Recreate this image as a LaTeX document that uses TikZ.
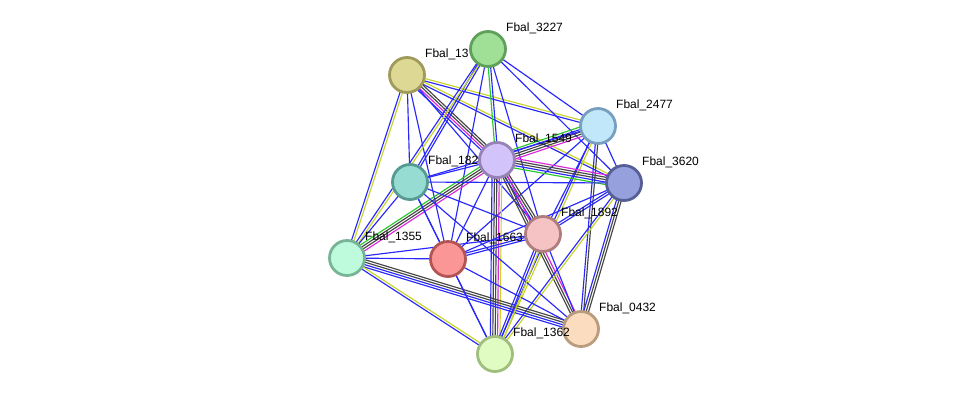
\documentclass[tikz,border=0pt]{standalone}
\usepackage{fontspec}
\setmainfont{Liberation Sans}
\usetikzlibrary{calc,backgrounds}
\definecolor{cb}{RGB}{40,40,250}
\definecolor{cy}{RGB}{200,212,40}
\definecolor{ck}{RGB}{70,70,70}
\definecolor{cg}{RGB}{40,200,40}
\definecolor{cm}{RGB}{220,40,220}
\definecolor{fA}{RGB}{221,217,149}\definecolor{dA}{RGB}{160,155,90}
\definecolor{fF}{RGB}{150,220,210}\definecolor{dF}{RGB}{85,155,145}
\definecolor{fH}{RGB}{190,250,220}\definecolor{dH}{RGB}{120,180,150}
\definecolor{fI}{RGB}{250,150,150}\definecolor{dI}{RGB}{180,85,85}
\definecolor{fB}{RGB}{160,224,150}\definecolor{dB}{RGB}{95,160,90}
\definecolor{fD}{RGB}{210,195,250}\definecolor{dD}{RGB}{150,130,180}
\definecolor{fC}{RGB}{192,232,250}\definecolor{dC}{RGB}{120,160,190}
\definecolor{fE}{RGB}{150,160,220}\definecolor{dE}{RGB}{85,95,150}
\definecolor{fG}{RGB}{245,195,195}\definecolor{dG}{RGB}{175,125,125}
\definecolor{fJ}{RGB}{252,220,190}\definecolor{dJ}{RGB}{185,155,125}
\definecolor{fK}{RGB}{225,252,195}\definecolor{dK}{RGB}{160,190,125}
\tikzset{
  eb/.style={draw=cb},ey/.style={draw=cy},ek/.style={draw=ck},eg/.style={draw=cg},em/.style={draw=cm},
  prot/.style={circle,minimum size=35pt,inner sep=0pt,line width=2.8pt,fill=f#1,draw=d#1},
  lab/.style={anchor=west,inner sep=0pt,font=\fontsize{12}{14}\selectfont,text=black}
}
\newcommand{\sedge}[3]{%
  \foreach \c [count=\i] in {#3} {\xdef\nlines{\i}}%
  \foreach \c [count=\i] in {#3} {%
    \pgfmathsetmacro\off{(\i-(\nlines+1)/2)*2.4}%
    \draw[\c,line width=1.15pt] ($(#1.center)!\off pt!90:(#2.center)$) -- ($(#2.center)!\off pt!-90:(#1.center)$);
  }}
\newcommand{\prt}[4]{\node[prot=#1] (#1) at (#2,#3) {}; \node[lab] (#1l) at (#2+18,#3-21) {#4};}
\begin{document}
\begin{tikzpicture}[x=1pt,y=-1pt]
\useasboundingbox (0,0) rectangle (976,400);
\prt{A}{407}{75}{Fbal\_13}
\prt{F}{410}{182}{Fbal\_182}
\prt{H}{347}{258}{Fbal\_1355}
\prt{I}{448}{259}{Fbal\_1663}
\prt{B}{488}{49}{Fbal\_3227}
\prt{D}{497}{160}{Fbal\_1549}
\prt{C}{598}{126}{Fbal\_2477}
\prt{E}{624}{183}{Fbal\_3620}
\prt{G}{543}{234}{Fbal\_1892}
\prt{J}{581}{329}{Fbal\_0432}
\prt{K}{495}{354}{Fbal\_1362}
\begin{scope}[on background layer]
\fill[white] (0,0) rectangle (976,400);
\sedge{A}{C}{eb,ey}
\sedge{A}{E}{eb,ey}
\sedge{A}{D}{eb,em,ek,ek}
\sedge{A}{F}{eb}
\sedge{A}{H}{eb,ey}
\sedge{A}{I}{eb}
\sedge{A}{G}{eb}
\sedge{B}{D}{eg,eb}
\sedge{B}{C}{eb}
\sedge{B}{E}{eb}
\sedge{B}{F}{eb,eb}
\sedge{B}{H}{eb,ey}
\sedge{B}{G}{eb}
\sedge{B}{I}{eb}
\sedge{C}{D}{eg,eb,ek,ek,em}
\sedge{C}{E}{eb}
\sedge{C}{F}{eb}
\sedge{C}{G}{eb}
\sedge{C}{I}{eb}
\sedge{C}{J}{eb,ek}
\sedge{C}{K}{eb,ey}
\sedge{D}{E}{eg,eb,ek,ek,em}
\sedge{D}{F}{eb}
\sedge{D}{H}{eg,ek,ek,em}
\sedge{D}{G}{eb,ek,ek}
\sedge{D}{J}{ek,ek,em}
\sedge{D}{I}{eb}
\sedge{D}{K}{eb,ek,ek,em,ey}
\sedge{E}{F}{eb}
\sedge{E}{G}{eb,eb}
\sedge{E}{I}{eb}
\sedge{E}{J}{eb,ek,ek}
\sedge{E}{K}{eb,ey}
\sedge{F}{H}{eb}
\sedge{F}{I}{eb}
\sedge{F}{G}{eb}
\sedge{F}{J}{eb}
\sedge{F}{K}{eb}
\sedge{H}{I}{eb}
\sedge{H}{G}{eb}
\sedge{H}{J}{eb,eb,ek,ek}
\sedge{H}{K}{eb,ey}
\sedge{I}{G}{eb,eb}
\sedge{I}{K}{eb}
\sedge{I}{J}{eb}
\sedge{G}{J}{eb}
\sedge{G}{K}{eb,eb,ey}
\end{scope}
\end{tikzpicture}
\end{document}
